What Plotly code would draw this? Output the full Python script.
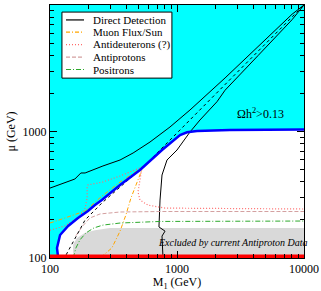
import plotly.graph_objects as go

# ---- data (GeV) ----
relic_m1 = [116, 113.5, 120, 139, 166, 199, 226, 256, 356, 511, 762, 881, 1057, 1200, 1435, 2612, 10000]
relic_mu = [100, 120, 152, 179, 207, 235, 262, 287, 378, 496, 714, 811, 938, 985, 1010, 1030, 1035]

excl_m1 = [10000, 296, 226, 189, 163, 152, 152, 160, 10000]
excl_mu = [173, 173, 166, 158, 144, 127, 111, 100, 100]

dd_upper_m1 = [100, 157, 175, 189, 261, 356, 451, 613, 881, 1265, 2390, 4345, 8050, 10000]
dd_upper_mu = [357, 421, 470, 470, 534, 595, 676, 826, 1086, 1479, 2650, 4700, 8450, 10000]

dd_lower_m1 = [776, 762, 805, 721, 735, 762, 834, 1000, 1265, 1517, 2065, 2390, 4345, 8050, 10000]
dd_lower_mu = [100, 149, 163, 176, 287, 453, 595, 714, 991, 1233, 1720, 2120, 3980, 7650, 10000]

diag_m1 = [134, 189, 256, 540, 805, 881, 1265, 2390, 4345, 8050, 10000]
diag_mu = [106, 200, 272, 524, 782, 857, 1233, 2371, 4300, 8000, 10000]

muon_m1 = [100, 189, 252, 356, 540, 493, 434, 396, 356, 307, 248]
muon_mu = [189, 235, 304, 399, 524, 414, 298, 219, 163, 120, 100]

dbar_m1 = [100, 131, 172, 189, 196, 196, 199, 261, 356, 530, 511, 493, 511, 591, 805, 10000]
dbar_mu = [166, 179, 215, 248, 298, 357, 378, 399, 445, 524, 414, 333, 287, 262, 248, 244]

pbar_m1 = [160, 180, 206, 248, 356, 735, 10000]
pbar_mu = [150, 178, 207, 223, 231, 233, 233]

pos_m1 = [152, 160, 172, 192, 222, 261, 356, 735, 10000]
pos_mu = [100, 120, 139, 158, 173, 182, 189, 194.5, 196]

bound_m1 = [100, 10000]
bound_mu = [100, 100]

x_ticks = [100, 1000, 10000]
y_ticks = [100, 1000, 10000]

legend_names = ["Direct Detection", "Muon Flux/Sun", "Antideuterons (?)", "Antiprotons", "Positrons"]
legend_colors = ["black", "#FFA500", "#FF6A6A", "#D4A0A0", "#2DAA2D"]
legend_dashes = ["solid", "4px,2px,1px,2px", "1px,2px", "4px,2px", "5px,2px,1px,2px"]

FONT = "Liberation Serif, Times New Roman, serif"

fig = go.Figure()

# cyan region (Omega h^2 > 0.13)
fig.add_trace(go.Scatter(
    x=[x_ticks[0]] + relic_m1 + [x_ticks[-1], x_ticks[0]],
    y=[y_ticks[0]] + relic_mu + [y_ticks[-1], y_ticks[-1]],
    fill="toself", fillcolor="#00FFFF", line=dict(width=0), mode="lines",
    showlegend=False, hoverinfo="skip"))

# grey excluded region
fig.add_trace(go.Scatter(
    x=excl_m1, y=excl_mu, fill="toself", fillcolor="#D9D9D9",
    line=dict(width=0), mode="lines", showlegend=False, hoverinfo="skip"))

# Direct detection
fig.add_trace(go.Scatter(x=dd_upper_m1, y=dd_upper_mu, mode="lines",
    line=dict(color=legend_colors[0], width=1), name=legend_names[0], showlegend=False))
fig.add_trace(go.Scatter(x=dd_lower_m1, y=dd_lower_mu, mode="lines",
    line=dict(color=legend_colors[0], width=1), name=legend_names[0], showlegend=False))

fig.add_trace(go.Scatter(x=muon_m1, y=muon_mu, mode="lines",
    line=dict(color=legend_colors[1], width=1, dash=legend_dashes[1]),
    name=legend_names[1], showlegend=False))
fig.add_trace(go.Scatter(x=dbar_m1, y=dbar_mu, mode="lines",
    line=dict(color=legend_colors[2], width=1.2, dash=legend_dashes[2]),
    name=legend_names[2], showlegend=False))
fig.add_trace(go.Scatter(x=pbar_m1, y=pbar_mu, mode="lines",
    line=dict(color=legend_colors[3], width=1, dash=legend_dashes[3]),
    name=legend_names[3], showlegend=False))
fig.add_trace(go.Scatter(x=pos_m1, y=pos_mu, mode="lines",
    line=dict(color=legend_colors[4], width=1, dash=legend_dashes[4]),
    name=legend_names[4], showlegend=False))

# diagonal dashed
fig.add_trace(go.Scatter(x=diag_m1, y=diag_mu, mode="lines",
    line=dict(color="black", width=1, dash="3px,3px"), showlegend=False))

# relic boundary
fig.add_trace(go.Scatter(x=relic_m1, y=relic_mu, mode="lines",
    line=dict(color="#0000FF", width=2.5), showlegend=False))

# red line at mu = 100
fig.add_trace(go.Scatter(x=bound_m1, y=bound_mu, mode="lines",
    line=dict(color="#FF0000", width=7), showlegend=False))

axis_common = dict(
    type="log", ticks="inside", ticklen=7, tickwidth=1, tickcolor="black",
    mirror="allticks", showline=True, linecolor="black", linewidth=1,
    showgrid=False, zeroline=False, exponentformat="none",
    tickfont=dict(family=FONT, size=12, color="black"),
    minor=dict(ticks="inside", ticklen=4, tickcolor="black", dtick="D1", showgrid=False),
    automargin=False,
)

# compact legend box (layout decoration)
shapes = [dict(type="rect", xref="paper", yref="paper", x0=0.047, x1=0.480,
               y0=0.711, y1=0.972, fillcolor="white",
               line=dict(color="black", width=1), layer="above")]
annotations = []
row_y = [0.941, 0.893, 0.843, 0.794, 0.745]
for name, col, dsh, yy in zip(legend_names, legend_colors, legend_dashes, row_y):
    shapes.append(dict(type="line", xref="paper", yref="paper", x0=0.063, x1=0.134,
                       y0=yy, y1=yy, layer="above",
                       line=dict(color=col, width=1.2, dash=dsh)))
    annotations.append(dict(x=0.163, y=yy, xref="paper", yref="paper",
                            xanchor="left", yanchor="middle", showarrow=False,
                            text=name, font=dict(family=FONT, size=11, color="black")))

annotations += [
    dict(x=3.66, y=3.146, xref="x", yref="y", showarrow=False,
         text="Ωh<sup>2</sup>>0.13", font=dict(family=FONT, size=12)),
    dict(x=3.44, y=2.119, xref="x", yref="y", showarrow=False,
         text="<i>Excluded by current Antiproton Data</i>",
         font=dict(family=FONT, size=10)),
]

fig.update_layout(
    width=321, height=291,
    margin=dict(l=50, r=17, t=5, b=33),
    paper_bgcolor="white", plot_bgcolor="white",
    font=dict(family=FONT, size=12, color="black"),
    showlegend=False,
    xaxis=dict(axis_common, range=[2, 4], tickvals=x_ticks,
               ticktext=[str(v) for v in x_ticks],
               title=dict(text="M<sub>1</sub> (GeV)", standoff=2,
                          font=dict(family=FONT, size=12))),
    yaxis=dict(axis_common, range=[2, 4], tickvals=y_ticks,
               ticktext=[str(v) for v in y_ticks],
               title=dict(text="μ (GeV)", standoff=4,
                          font=dict(family=FONT, size=12))),
    shapes=shapes,
    annotations=annotations,
)

fig.write_html("out.html", config={"displayModeBar": False},
               post_script="document.body.style.margin='0px';")
